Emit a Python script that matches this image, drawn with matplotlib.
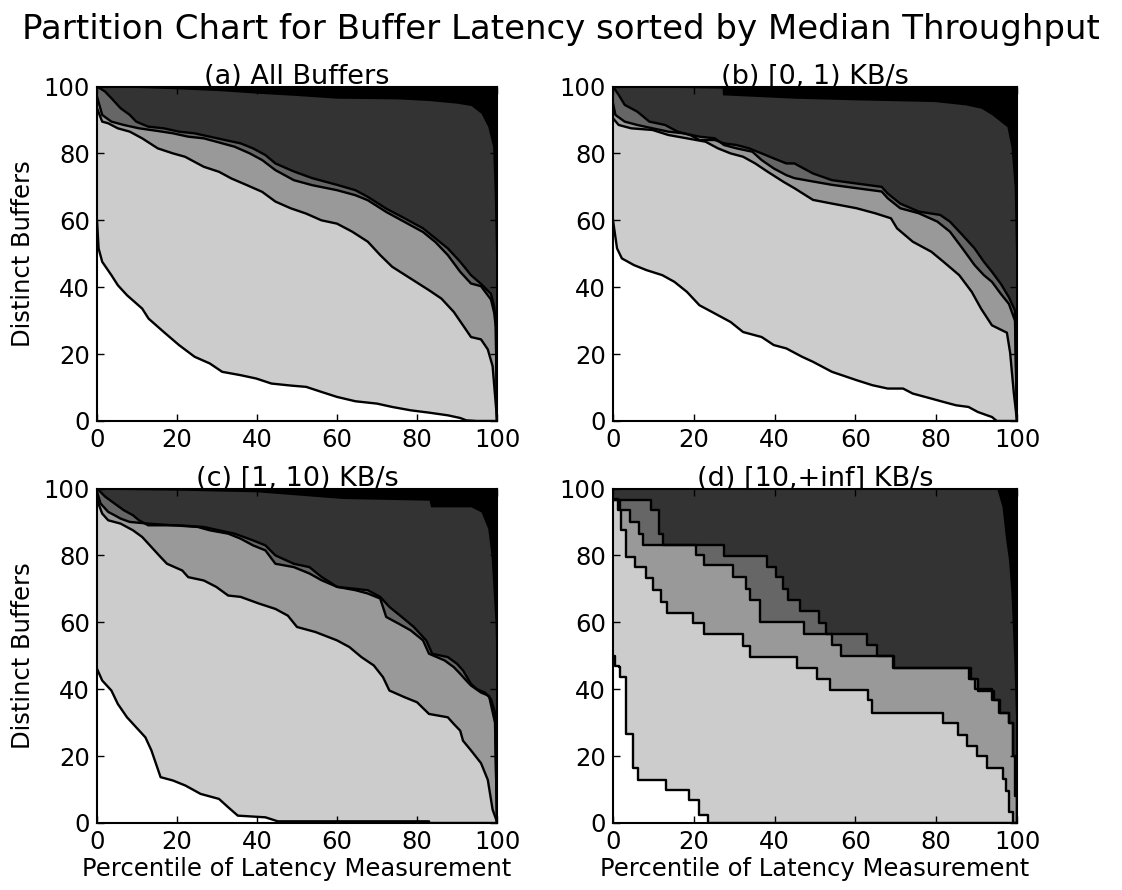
import numpy as np
import matplotlib
matplotlib.use("Agg")
import matplotlib.pyplot as plt

# boundary curves, bottom (L1) to top (L5)

# (a) All Buffers
a1_x = [0, 0.4, 1.3, 3.6, 5.2, 7.5, 11.3, 12.9, 16.7, 20.5, 24.4, 28.2, 31.3, 35.9, 39.8, 43.6, 48.4, 52.3, 56.1, 60, 64.6, 70, 73.8, 78.4, 83, 87.7, 90.8, 92.3, 95, 100]
a1_y = [60, 51.6, 47.6, 43.6, 40.6, 37.6, 33.6, 30.6, 26.6, 22.7, 19.2, 17.2, 14.7, 13.7, 12.7, 11.2, 10.6, 10.2, 8.7, 7.2, 5.9, 5.2, 4.2, 3.2, 2.5, 1.7, 0.9, 0.2, 0, 0]
a2_x = [0, 1.3, 2.8, 5.2, 8.2, 11.3, 15.2, 19, 22, 26.7, 30.5, 33.6, 37.5, 41.3, 44.6, 48.4, 52.3, 56.1, 60, 63.8, 67.7, 70.8, 73.8, 78.4, 83, 86.1, 89.2, 91.5, 93.5, 96, 97.7, 98.9, 99.8, 100]
a2_y = [93.5, 89.5, 89, 87.5, 86.5, 84.5, 81.5, 80, 79, 76, 74.5, 72.5, 70.5, 68.5, 65.6, 63.6, 62, 60, 59, 56.6, 53.6, 49.6, 46.1, 42.6, 39.1, 36.6, 32.6, 28.6, 25.1, 24.4, 21.4, 16.4, 3.5, 0]
a3_x = [0, 1.3, 3.6, 6.7, 10.5, 15.2, 19, 22.8, 26.7, 29.8, 34.4, 38.2, 41.3, 44.6, 49.2, 53.8, 60, 64.6, 67.7, 72.3, 76.9, 81.5, 84.6, 87.7, 90.8, 93.5, 96, 98.5, 99.3, 99.7, 100]
a3_y = [97, 91.5, 89.5, 88.5, 87.5, 86.7, 86, 85, 84.5, 83.5, 82, 80, 78, 75, 72, 70.5, 69, 67.5, 66, 62.5, 59.5, 56.5, 53.5, 49.6, 44.6, 41.1, 40.3, 36.3, 32.3, 28, 0]
a4_x = [0, 2, 3.6, 5.9, 8.2, 9.8, 12.8, 16.7, 20.5, 24.4, 28.2, 32, 35.9, 39, 42.1, 44.6, 49.2, 53.8, 60, 64.6, 67.7, 72.3, 76.9, 81.5, 84.6, 87.7, 90.8, 93.5, 96, 98.5, 99.3, 99.7, 100]
a4_y = [100, 98.5, 96.5, 93.5, 91.5, 89.5, 88, 87.5, 86.5, 86, 85, 84, 83, 81.5, 79.5, 77, 74.6, 72.6, 70.6, 69, 67, 63.5, 60.6, 57.6, 54.6, 51.6, 47.6, 43.6, 41, 38, 34, 30, 0]
a5_x = [0, 10, 20, 30, 40, 50, 60, 75, 83, 90, 93.5, 96, 97.7, 98.9, 99.3, 99.8, 100]
a5_y = [100, 99.7, 99.3, 98.8, 98, 97.3, 96.5, 96.3, 95.8, 95, 94.3, 92, 88, 82, 68, 40, 35]

# (b) [0, 1) KB/s
b1_x = [0, 1, 2.2, 5.2, 8.3, 12.2, 15.2, 18.3, 21.4, 24.5, 29.1, 32.2, 36.8, 39.8, 42.9, 46.8, 49.5, 54.2, 60.3, 64.2, 68, 71.8, 74.2, 78.8, 81.8, 84.9, 88, 90.3, 92.6, 93.8, 95, 100]
b1_y = [60, 51.6, 48.6, 46.6, 45.1, 43.6, 41.6, 38.6, 34.6, 32.6, 29.6, 26.6, 25.1, 22.7, 21.7, 19.2, 17.7, 14.7, 12.2, 10.7, 9.7, 9.7, 8.2, 6.7, 5.7, 4.7, 4.2, 2.7, 1.7, 1.2, 0, 0]
b2_x = [0, 1.4, 4.5, 9.8, 13.7, 18.3, 22.9, 26, 29.1, 32.2, 35.2, 38.3, 42.2, 44.9, 49.5, 54.2, 60.3, 64.9, 68.8, 70.3, 74.2, 78.8, 81.8, 85.7, 88.8, 91.1, 93.8, 97.5, 98.3, 99.2, 100]
b2_y = [90.5, 88.5, 87.5, 87, 85.5, 84.5, 83.5, 81.5, 80, 79, 77, 74.5, 71.5, 69.6, 66.1, 65, 63.6, 62.1, 60.6, 57.6, 53.6, 50.6, 47.6, 43.6, 38.6, 33.6, 28.6, 26.4, 20.4, 8.5, 0]
b3_x = [0, 0.6, 2.9, 6, 9.8, 13.7, 17.5, 21.4, 25.2, 27.5, 30.6, 34.5, 36.8, 39.8, 42.9, 44.9, 49.5, 54.2, 60.3, 66.5, 68, 71.1, 75.7, 80.3, 83.4, 86.5, 89.5, 91.8, 93.8, 96, 98, 99.5, 100]
b3_y = [95, 91.5, 89.5, 88.5, 87.5, 86.5, 86, 85, 84.5, 82.5, 81.5, 80.5, 78, 75.5, 73.5, 72.6, 71.6, 70.6, 69.6, 68.6, 66.6, 63.6, 62.1, 59.6, 56.6, 51.6, 46.6, 43.6, 41.6, 38, 35, 30, 0]
b4_x = [0, 1.4, 2.9, 6, 9, 12.9, 16, 19.1, 21.4, 25.2, 27.5, 30.6, 33.7, 36.8, 39.8, 42.9, 44.9, 49.5, 54.2, 60.3, 66.5, 68, 71.1, 75.7, 81, 83.4, 86.5, 89.5, 91.8, 93.8, 96, 98, 99.5, 100]
b4_y = [100, 97.5, 94.5, 92.5, 89.5, 88.5, 86.5, 85.5, 84, 84, 83, 82.5, 81.5, 80, 78.5, 77, 77, 74, 72, 71, 70, 68, 65, 62.6, 61.6, 59.6, 55.6, 51.6, 47.6, 44.6, 41, 37, 33, 0]
b5_x = [0, 27, 27.1, 44.9, 60.3, 79.5, 87.2, 91.1, 93.8, 97.5, 98.5, 99.3, 99.8, 100]
b5_y = [100, 99.5, 97.5, 96.5, 96, 95.5, 94.5, 93.5, 91.5, 88, 82, 70, 40, 35]

# (c) [1, 10) KB/s
c1_x = [0, 1.3, 3.6, 5.2, 7.5, 9.8, 12.1, 13.6, 15.9, 19, 22.1, 25.9, 30.5, 32.8, 35.2, 42.1, 45.2, 83, 83.1, 100]
c1_y = [46.1, 42.6, 39.6, 35.6, 31.6, 28.6, 25.6, 21.7, 13.7, 12.7, 11.2, 8.7, 7.2, 4.7, 2.2, 1.7, 0.5, 0.5, 0, 0]
c2_x = [0, 0.2, 1.3, 2.8, 5.9, 9, 11.3, 13.6, 15.9, 17.5, 21.3, 22.8, 26.7, 29.8, 32.8, 35.9, 40.5, 44.6, 47.7, 50, 54.6, 60, 63.1, 66.1, 69.2, 71.5, 73.1, 76.9, 80, 83, 87.7, 89.2, 90.8, 91.5, 93.5, 96, 97.7, 98.9, 99.8, 100]
c2_y = [97.5, 96, 92.5, 90.5, 89.5, 87.5, 85.5, 82.5, 79.5, 77.5, 75.5, 73.5, 72.5, 70.6, 68, 67.6, 65.6, 64, 62, 58.6, 57.1, 54.6, 52.6, 49.6, 47.1, 43.6, 39.6, 37.6, 36.1, 32.6, 31.6, 29.6, 27.6, 24.6, 21.7, 17.9, 12.9, 4, 1, 0]
c3_x = [0, 0.9, 2.8, 4.4, 5.9, 8.2, 12.8, 19, 25.2, 28.2, 32.8, 35.9, 39, 42.1, 44.6, 49.2, 53.1, 56.1, 60, 64.6, 67.7, 70.8, 72.3, 75.4, 78.4, 81.5, 83, 86.9, 89.2, 90.8, 92.3, 93.5, 96, 98, 99.5, 100]
c3_y = [99, 95.5, 93, 92, 91, 90, 89.5, 89, 88.5, 87.5, 86.5, 85, 83, 81.5, 77.5, 76.5, 74.6, 72.6, 70.6, 69.6, 68.6, 67.1, 61.6, 59.6, 57.6, 54.6, 50.6, 48.6, 46.6, 44.6, 42.6, 41.1, 39, 38, 30, 0]
c4_x = [0, 2.1, 4.4, 6.7, 9, 10.5, 12.8, 20.5, 26.7, 30.5, 34.4, 39, 42.1, 44.6, 49.2, 53.1, 56.1, 60, 64.6, 67.7, 70.8, 73.1, 76.2, 79.2, 82.3, 83.8, 87.7, 90, 91.5, 93.5, 95, 97, 98.5, 99.5, 100]
c4_y = [100, 97.5, 95.5, 93.5, 92, 90.5, 89, 89, 88.5, 87.5, 86.5, 84.5, 83, 80, 77.5, 76.5, 73.6, 70.6, 70, 69.6, 67.6, 64.6, 61.6, 58.6, 54.6, 50.6, 49.6, 47.6, 45.6, 41.6, 40, 39, 37, 33, 0]
c5_x = [0, 5, 20, 40, 56.1, 61.5, 83, 83.4, 93.5, 96, 97.7, 98.5, 99.5, 100]
c5_y = [100, 99.7, 99.5, 99, 97.5, 97, 96.5, 94.5, 94.5, 93, 88, 80, 60, 35]

# (d) [10,+inf] KB/s  (step curves)
d1_x = [0, 0.6, 1.4, 1.8, 3.1, 5.0, 6.2, 13.2, 18.9, 21.2, 23.4, 100]
d1_y = [50, 47, 46.6, 43.5, 26.5, 16.5, 13, 10, 7, 2.5, 0, 0]
d2_x = [0, 1.2, 2.0, 3.3, 5.4, 8.1, 9.8, 12.0, 13.4, 19.7, 22.5, 32.1, 33.9, 45.5, 50.4, 53.7, 63.1, 64.2, 81.7, 85.3, 87.6, 90.2, 92.6, 96.5, 97.3, 98.1, 98.9, 100]
d2_y = [97, 93.5, 87.6, 79.6, 76.6, 73.1, 69.7, 66.2, 62.9, 59.7, 56.4, 52.9, 49.5, 46.3, 43, 39.8, 36.8, 33, 29.9, 26.4, 23.1, 19.9, 16.4, 13.1, 9.5, 3.2, 0, 0]
d3_x = [0, 1.8, 4.1, 6.4, 7.5, 20.6, 22.5, 29.8, 32.9, 33.9, 36.4, 47.2, 54.1, 56.4, 69.5, 88.0, 89.5, 93.8, 95.7, 98.0, 99.0, 99.6, 100]
d3_y = [96.7, 93.5, 90, 86.5, 83, 80, 77, 73.6, 70, 66.6, 60, 56.4, 53.1, 49.8, 46.4, 43.1, 40.1, 36.8, 33, 29.9, 20, 8, 0]
d4_x = [0, 9.5, 11.5, 12.4, 27.4, 38.1, 40.3, 42, 43.4, 46.3, 51, 52.7, 62.8, 65.4, 69.4, 88.6, 90.3, 94.2, 95.6, 97.9, 99.1, 99.7, 100]
d4_y = [96.7, 93.5, 86.5, 83, 79.8, 76.5, 73.5, 70, 66.6, 63.3, 59.8, 56.6, 53.1, 49.8, 46.4, 43.1, 39.6, 36.8, 33, 29.9, 20, 8, 0]
d5_x = [0, 95, 96.3, 97.1, 97.9, 98.5, 99.2, 99.6, 100]
d5_y = [100, 100, 94.5, 85.6, 78.6, 68.7, 48.8, 32.8, 25]

titles = ["(a) All Buffers", "(b) [0, 1) KB/s", "(c) [1, 10) KB/s", "(d) [10,+inf] KB/s"]
shades = ["white", "0.8", "0.6", "0.4", "0.2"]

panels = [
    [(a1_x, a1_y), (a2_x, a2_y), (a3_x, a3_y), (a4_x, a4_y), (a5_x, a5_y)],
    [(b1_x, b1_y), (b2_x, b2_y), (b3_x, b3_y), (b4_x, b4_y), (b5_x, b5_y)],
    [(c1_x, c1_y), (c2_x, c2_y), (c3_x, c3_y), (c4_x, c4_y), (c5_x, c5_y)],
    [(d1_x, d1_y), (d2_x, d2_y), (d3_x, d3_y), (d4_x, d4_y), (d5_x, d5_y)],
]

W, H = 1122, 890
fig = plt.figure(figsize=(W / 100, H / 100), dpi=100)

# axes boxes in pixels: left, right, top, bottom
boxes = [(97, 497, 86.5, 421), (613, 1017, 86.5, 421),
         (97, 497, 488.5, 823), (613, 1017, 488.5, 823)]


def draw_panel(ax, lines, steps):
    ax.set_facecolor("black")
    # top layer first, every lower fill covers the one above it
    for i in range(4, -1, -1):
        xs, ys = lines[i]
        st = "post" if (steps and i < 4) else None
        ax.fill_between(xs, 0, ys, color=shades[i], step=st, linewidth=0)
    for i in range(4):
        xs, ys = lines[i]
        ds = "steps-post" if steps else "default"
        ax.plot(xs, ys, color="black", lw=1.7, drawstyle=ds)
    ax.set_xlim(0, 100)
    ax.set_ylim(0, 100)
    ax.set_xticks(np.arange(0, 101, 20))
    ax.set_yticks(np.arange(0, 101, 20))
    ax.tick_params(direction="in", top=True, right=True, length=5, width=1,
                   labelsize=17.5, pad=5)
    for s in ax.spines.values():
        s.set_linewidth(1.5)


for k in range(4):
    l, r, t, b = boxes[k]
    ax = fig.add_axes([l / W, 1 - b / H, (r - l) / W, (b - t) / H])
    draw_panel(ax, panels[k], steps=(k == 3))
    ax.set_title(titles[k], fontsize=19.5, pad=2)
    if k % 2 == 0:
        ax.set_ylabel("Distinct Buffers", fontsize=17.5, labelpad=6)
    if k >= 2:
        ax.set_xlabel("Percentile of Latency Measurement", fontsize=17.5, labelpad=2)

fig.suptitle("Partition Chart for Buffer Latency sorted by Median Throughput",
             fontsize=24.5, y=1 - 29 / H, va="center")

fig.savefig("out.png", dpi=100)
